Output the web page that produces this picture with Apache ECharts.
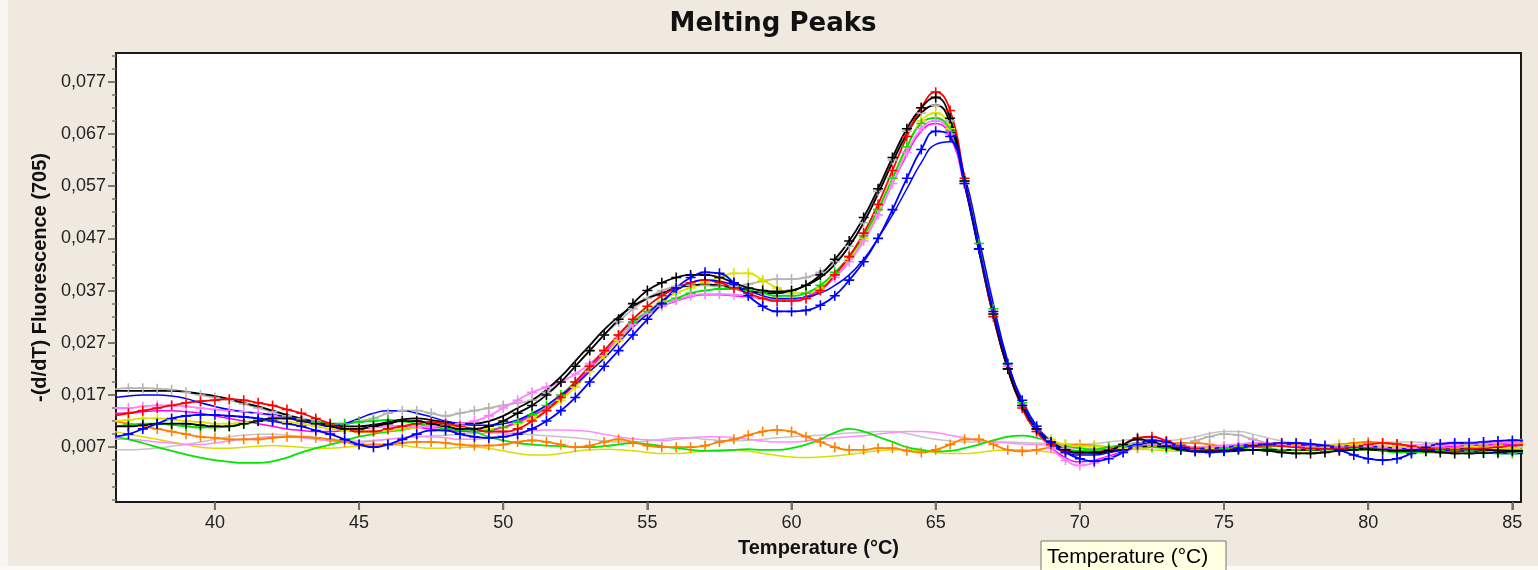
<!DOCTYPE html>
<html>
<head>
<meta charset="utf-8">
<script src="https://cdn.jsdelivr.net/npm/echarts@6/dist/echarts.min.js"></script>
<style>
  html, body { margin: 0; padding: 0; background: #EFE9DF; }
  #chart { width: 1538px; height: 570px; }
</style>
</head>
<body>
<div id="chart"></div>
<script>
// Temperatur-Raster (°C), Werte in 1/1000 Fluoreszenz-Einheiten
const temps = [
  36.5, 37, 37.5, 38, 38.5, 39, 39.5, 40, 40.5, 41,
  41.5, 42, 42.5, 43, 43.5, 44, 44.5, 45, 45.5, 46,
  46.5, 47, 47.5, 48, 48.5, 49, 49.5, 50, 50.5, 51,
  51.5, 52, 52.5, 53, 53.5, 54, 54.5, 55, 55.5, 56,
  56.5, 57, 57.5, 58, 58.5, 59, 59.5, 60, 60.5, 61,
  61.5, 62, 62.5, 63, 63.5, 64, 64.5, 65, 65.5, 66,
  66.5, 67, 67.5, 68, 68.5, 69, 69.5, 70, 70.5, 71,
  71.5, 72, 72.5, 73, 73.5, 74, 74.5, 75, 75.5, 76,
  76.5, 77, 77.5, 78, 78.5, 79, 79.5, 80, 80.5, 81,
  81.5, 82, 82.5, 83, 83.5, 84, 84.5, 85, 85.5
];

const xTicks = [40, 45, 50, 55, 60, 65, 70, 75, 80, 85];
const yTicks = [7, 17, 27, 37, 47, 57, 67, 77];
const yMinorTicks = [-3, -0.5, 2, 4.5, 9.5, 12, 14.5, 19.5, 22, 24.5, 29.5, 32, 34.5,
  39.5, 42, 44.5, 49.5, 52, 54.5, 59.5, 62, 64.5, 69.5, 72, 74.5, 79.5, 82];

// Proben ohne Produkt (flach)
const negOrange = [
  12, 11.5, 11, 10.5, 10, 9.5, 9, 8.8, 8.5, 8.5,
  8.5, 8.8, 9, 9, 8.8, 8.5, 8, 7.5, 7.5, 7.5,
  7.8, 8, 8, 7.8, 7.5, 7.3, 7.3, 7.5, 8, 8.3,
  8, 7.5, 7, 7.3, 8, 8.5, 8, 7.3, 7, 7,
  7, 7.3, 8, 8.5, 9.3, 10, 10.3, 10, 9, 8,
  7, 6.5, 6.5, 6.8, 6.8, 6.3, 6, 6.5, 7.5, 8.5,
  8.5, 7.5, 6.5, 6.2, 6.5, 7, 7.5, 7.5, 7.3, 7,
  6.8, 6.8, 7.2, 7.5, 7.8, 7.8, 7.5, 7.2, 7.2, 7.5,
  7.8, 7.8, 7.5, 7.2, 7.2, 7.5, 7.8, 8, 7.8, 7.5,
  7.2, 7, 6.8, 6.8, 7, 7.2, 7.5, 7.8, 8
];
const negGreen = [
  9, 8.5, 7.8, 7, 6.3, 5.6, 5, 4.5, 4.2, 4,
  4, 4.3, 5, 6, 6.8, 7.5, 8.2, 9, 9.5, 10,
  10.3, 10.8, 11.3, 11.5, 11, 10, 9, 8.3, 7.8, 7.5,
  7.3, 7.2, 7, 7, 7.2, 7.5, 7.8, 7.6, 7.2, 6.8,
  6.5, 6.3, 6.3, 6.5, 6.6, 6.5, 6.5, 6.8, 7.5, 8.5,
  9.8, 10.5, 10, 9, 8, 7, 6.5, 6.2, 6.3, 6.8,
  7.5, 8.3, 9, 9.2, 8.8, 8, 7.3, 6.8, 6.5, 6.5,
  6.6, 6.8, 7, 7.2, 7.2, 7, 6.8, 6.8, 6.8, 7,
  7.2, 7.2, 7, 6.8, 6.6, 6.5, 6.5, 6.6, 6.6, 6.5,
  6.3, 6.2, 6.2, 6.3, 6.5, 6.6, 6.6, 6.5, 6.3
];
const negPink = [
  8.5, 8.5, 8.3, 8, 7.8, 7.5, 7.5, 7.8, 8.2, 8.5,
  8.8, 9, 9, 8.8, 8.5, 8.2, 8, 8, 8.2, 8.5,
  8.8, 9, 9, 8.8, 8.5, 8.5, 8.8, 9.3, 9.8, 10.2,
  10.3, 10.3, 10.2, 10, 9.5, 9, 8.6, 8.4, 8.3, 8.5,
  8.8, 9, 9, 8.8, 8.5, 8.2, 8, 8, 8.2, 8.5,
  8.8, 9, 9.2, 9.5, 9.8, 10, 10, 9.8, 9.3, 8.8,
  8.3, 8, 7.8, 7.6, 7.5, 7.3, 7, 6.8, 6.8, 7,
  7.3, 7.5, 7.5, 7.3, 7, 7, 7.2, 7.4, 7.5, 7.5,
  7.3, 7.2, 7.2, 7.3, 7.4, 7.3, 7.2, 7, 7, 7.2,
  7.4, 7.6, 7.8, 8, 8, 7.8, 7.6, 7.5, 7.5
];
const negGray = [
  6.5, 6.5, 6.6, 6.8, 7.2, 7.5, 8, 8.5, 9, 9.3,
  9.5, 9.5, 9.3, 9, 8.8, 8.5, 8.3, 8.2, 8.3, 8.5,
  8.8, 9, 9.2, 9.3, 9.5, 9.6, 9.7, 9.7, 9.6, 9.4,
  9.2, 9, 8.8, 8.5, 8.2, 8, 8, 8.2, 8.5, 8.8,
  8.8, 8.5, 8.3, 8.2, 8.3, 8.5, 8.8, 9, 9.2, 9.3,
  9.5, 9.7, 9.8, 10, 10, 9.6, 9, 8.5, 8.2, 8,
  8, 8, 8, 7.9, 7.8, 7.6, 7.5, 7.5, 7.7, 8,
  8.3, 8.5, 8.5, 8.3, 8.5, 9, 9.6, 10, 10, 9.5,
  8.8, 8.2, 7.8, 7.6, 7.5, 7.5, 7.6, 7.8, 7.9, 8,
  8, 7.9, 7.8, 7.8, 7.9, 8, 8.2, 8.4, 8.5
];
const negYellow = [
  10, 9.5, 9, 8.5, 8, 7.5, 7, 6.8, 6.8, 7,
  7.2, 7.3, 7.2, 7, 6.8, 6.8, 7, 7.2, 7.5, 7.5,
  7.3, 7, 6.8, 6.8, 7, 7, 6.8, 6.3, 5.8, 5.5,
  5.5, 5.8, 6.2, 6.5, 6.6, 6.5, 6.3, 6, 5.8, 5.8,
  6, 6.3, 6.5, 6.5, 6.2, 5.8, 5.4, 5.1, 5, 5.1,
  5.3, 5.6, 6, 6.3, 6.5, 6.5, 6.3, 6, 5.8, 5.8,
  6, 6.3, 6.5, 6.5, 6.3, 6, 5.8, 5.8, 6, 6.3,
  6.5, 6.6, 6.5, 6.3, 6.2, 6.2, 6.4, 6.6, 6.6, 6.5,
  6.3, 6.1, 6, 6, 6.1, 6.3, 6.5, 6.5, 6.4, 6.2,
  6, 5.9, 5.9, 6, 6.2, 6.4, 6.5, 6.5, 6.4
];

// Proben mit Produkt (Peak bei ~65 °C)
const posGray = [
  18, 18.3, 18.3, 18.2, 18, 17.5, 17, 16.5, 16, 15.3,
  14.5, 13.8, 13, 12.5, 12, 11.5, 11.5, 12, 12.5, 13.5,
  14, 14, 13.5, 13, 13.5, 14, 14.5, 15, 15.5, 16,
  17.5, 19.5, 22.5, 25.5, 28.5, 31, 33.5, 35.5, 37, 37.8,
  38, 38, 37.8, 37.8, 38.2, 38.8, 39.2, 39.2, 39.5, 40.5,
  42.5, 45.5, 50, 56, 62, 67.5, 71, 72.5, 69.5, 58,
  45, 32.5, 22, 15, 10.5, 8, 6.8, 6.3, 6.5, 7,
  7.5, 7.8, 7.5, 7.3, 7.5, 8.2, 9, 9.5, 9.3, 8.5,
  7.8, 7.3, 7, 7, 7.2, 7.3, 7.3, 7.2, 7, 7,
  7, 7.2, 7.5, 7.6, 7.6, 7.5, 7.3, 7.2, 7
];
const posYellow = [
  12, 12.2, 12.5, 12.5, 12.3, 12, 11.8, 11.5, 11.5, 11.8,
  12, 12, 11.8, 11.5, 11, 10.5, 10.2, 10, 10, 10.2,
  10.5, 10.8, 11, 11, 10.8, 10.5, 10.5, 10.8, 11.5, 12.5,
  14, 16, 18.5, 21.5, 24.5, 27.5, 30.5, 33, 35, 36.5,
  37.5, 38.5, 39.5, 40.3, 40.3, 39, 37.5, 36.5, 36.5, 37.5,
  40, 43, 47, 52.5, 58.5, 64.5, 69.5, 71, 68, 57.5,
  45, 32.5, 22.5, 15.5, 11, 8.5, 7.5, 7.2, 7.2, 7,
  6.8, 6.8, 7, 7.2, 7.2, 7, 6.8, 6.8, 7, 7.3,
  7.3, 7.2, 7, 7, 7.2, 7.4, 7.5, 7.4, 7.2, 7,
  7, 7.2, 7.4, 7.4, 7.2, 7, 6.8, 6.8, 7
];
const posGreen = [
  11, 11.2, 11.5, 11.5, 11.3, 11, 10.8, 10.8, 11, 11.5,
  12, 12.5, 12.5, 12.2, 11.8, 11.5, 11.5, 11.8, 12, 12.2,
  12, 11.5, 11, 10.5, 10.2, 10, 10.2, 10.8, 11.8, 13.2,
  15, 17, 19.5, 22.5, 25.5, 28.5, 31, 33, 34.5, 35.5,
  36.5, 37, 37.3, 37.3, 37, 36.5, 36, 36, 36.5, 38,
  40.5, 43.5, 47.5, 52.5, 58.5, 64.5, 69, 70, 67.5, 58,
  46, 33.5, 23, 15.5, 10.5, 7.5, 6.5, 6.3, 6.5, 7,
  7.3, 7.3, 7, 6.8, 6.5, 6.5, 6.5, 6.8, 7, 7,
  6.8, 6.5, 6.5, 6.5, 6.7, 6.8, 6.8, 6.6, 6.3, 6,
  6, 6.2, 6.4, 6.4, 6.2, 6, 5.8, 5.8, 6
];
const posMagenta = [
  13.5, 13.5, 13.8, 14, 14, 13.8, 13.5, 13, 12.5, 12,
  11.5, 11, 10.5, 10.2, 10, 10, 10.2, 10.5, 10.8, 11,
  11, 10.8, 10.5, 10.2, 10, 10, 10.2, 10.8, 11.8, 13,
  14.5, 16.5, 19, 22, 25, 28, 30.5, 32.5, 34, 35,
  35.8, 36.2, 36.2, 36, 35.8, 35.5, 35.2, 35.2, 35.8, 37.2,
  39.5, 42.5, 46.5, 51.5, 57.5, 63, 67.5, 69, 66.5, 57,
  45, 33, 22.5, 15, 10, 7, 5, 4.2, 4.5, 5.3,
  6.2, 7, 7.3, 7.2, 7, 6.8, 6.8, 7, 7.2, 7.5,
  7.5, 7.3, 7, 6.8, 6.8, 6.8, 7, 7, 6.8, 6.6,
  6.6, 6.8, 7, 7.2, 7.3, 7.4, 7.5, 7.5, 7.5
];
const posPink = [
  14.5, 14.5, 14.8, 15, 15, 14.8, 14.5, 14.2, 14, 13.8,
  13.5, 13, 12.5, 12, 11.5, 11, 10.5, 10.5, 10.8, 11,
  11, 11, 11, 11.2, 11.5, 12, 13, 14.5, 16, 17.5,
  18.5, 19.5, 21, 23, 25.5, 28, 30.5, 32.5, 34, 35.2,
  36, 36.3, 36.3, 36.2, 36, 35.5, 35, 35, 35.5, 37,
  39.5, 42.5, 46.5, 51.5, 57.5, 63.5, 68, 69.5, 67, 57.5,
  45, 33, 22.5, 15, 10, 6.8, 4.5, 3.5, 4, 5,
  6, 7, 7.5, 7.5, 7.2, 7, 7, 7.2, 7.5, 7.8,
  7.8, 7.5, 7.2, 7, 6.9, 7, 7.2, 7.2, 7, 6.8,
  6.8, 7, 7.3, 7.5, 7.8, 8, 8, 7.8, 7.6
];
const posBlackLine = [
  17.8, 17.8, 17.8, 17.8, 17.8, 17.6, 17.2, 16.8, 16.2, 15.5,
  14.8, 14, 13.2, 12.5, 11.8, 11.2, 11, 11, 11.3, 11.8,
  12.3, 12.5, 12.2, 11.8, 11.5, 11.5, 12, 13, 14.5, 16,
  18, 20.5, 23.5, 26.5, 29.5, 32, 34, 35.5, 36.5, 37.5,
  38, 38.2, 38, 37.5, 37, 36.5, 36.5, 37, 38, 39.5,
  42, 45.5, 50, 55.5, 61.5, 67, 71, 72.5, 69, 57.5,
  44.5, 32, 22, 15, 10.5, 8, 6.5, 5.8, 5.8, 6,
  6.5, 7, 7.2, 7, 6.6, 6.3, 6.2, 6.2, 6.3, 6.5,
  6.5, 6.5, 6.5, 6.5, 6.6, 6.8, 6.8, 6.6, 6.4, 6.3,
  6.3, 6.4, 6.5, 6.6, 6.6, 6.5, 6.4, 6.3, 6.3
];
const posRed = [
  13, 13.5, 14, 14.5, 15, 15.5, 15.8, 16, 16.2, 16,
  15.5, 15, 14.2, 13.5, 12.5, 11.5, 10.5, 10, 10, 10.5,
  11, 11.5, 11.8, 11.5, 11, 10.5, 10, 10, 10.5, 12,
  14, 16.5, 19.5, 22.5, 25.5, 28.5, 31.5, 34, 36, 37.5,
  38.5, 39, 38.5, 37.5, 36.5, 35.5, 35, 35, 35.5, 37,
  40, 43.5, 48, 53.5, 60, 66.5, 72, 75, 71.5, 58.5,
  45, 32, 22, 14.5, 10, 7.5, 6.3, 5.8, 6, 6.5,
  7.5, 8.8, 9, 8.2, 7.3, 6.8, 6.5, 6.5, 6.8, 7.2,
  7.3, 7.2, 7, 6.8, 6.7, 6.8, 7, 7.5, 7.8, 7.6,
  7.2, 6.8, 6.6, 6.5, 6.6, 6.8, 7, 7.3, 7.5
];
const posBlack = [
  11, 11, 11.2, 11.5, 11.5, 11.5, 11.2, 11, 11, 11.5,
  12, 12.5, 12.5, 12, 11.5, 11, 10.5, 10.5, 11, 11.5,
  12, 12, 11.5, 11, 10.5, 10.5, 11, 12, 13.5, 15,
  17, 19.5, 22.5, 25.5, 28.5, 31.5, 34.5, 37, 38.5, 39.5,
  40, 40, 39.5, 38.5, 37.5, 37, 36.8, 37, 38, 40,
  43, 46.5, 51, 56.5, 62.5, 68, 72, 74, 70, 58,
  45, 32.5, 22, 15, 10.5, 8, 6.5, 6, 6, 6.3,
  7.5, 8.5, 8, 7.2, 6.5, 6.2, 6.2, 6.3, 6.5, 6.5,
  6.3, 6, 5.8, 5.8, 6, 6.3, 6.5, 6.6, 6.5, 6.3,
  6.3, 6.2, 6, 5.8, 5.8, 5.9, 6, 6.2, 6.3
];
const posBlue = [
  9, 9.5, 10.5, 11.5, 12.5, 13, 13.2, 13.2, 13, 12.8,
  12.5, 12, 11.5, 11, 10.2, 9.5, 8.5, 7.5, 7, 7.5,
  8.5, 9.5, 10.2, 10.2, 9.5, 9, 8.8, 9, 9.5, 10.5,
  12, 14, 16.5, 19.5, 22.5, 25.5, 28.5, 31.5, 34.5, 37.5,
  39.5, 40.5, 40.3, 38.5, 36, 34, 33, 33, 33.2, 34.2,
  36, 39, 42.5, 47, 52.5, 58.5, 64, 67.5, 66.5, 57.5,
  45, 33, 23, 16, 11, 8, 6, 4.8, 4.3, 4.8,
  6, 7.5, 8.3, 8, 7, 6.2, 6, 6.2, 6.8, 7.3,
  7.6, 7.8, 7.8, 7.6, 7.3, 6.5, 5.5, 4.8, 4.5, 4.8,
  5.8, 7, 7.6, 7.8, 7.8, 8, 8.2, 8.3, 8.3
];
const posBlueLine = [
  16.5, 16.8, 17, 17, 16.8, 16.3, 15.5, 14.8, 14.2, 13.8,
  13.5, 13.2, 12.8, 12.2, 11.5, 11, 11.5, 12.5, 13.5, 14,
  14, 13.5, 12.8, 12, 11.5, 11.2, 11.2, 11.5, 12.2, 13.5,
  15, 17, 19, 21.5, 24, 27, 30, 32.5, 35, 37,
  38.5, 39, 38.8, 38, 37, 36, 35.5, 35.5, 35.8, 36.5,
  38, 40, 43, 47, 51.5, 56.5, 61.5, 65, 65.5, 59,
  47, 34.5, 23.5, 15.5, 10.5, 7.5, 6, 5.5, 5.5, 6,
  6.8, 7.5, 7.8, 7.5, 7, 6.8, 6.8, 7, 7.3, 7.5,
  7.6, 7.6, 7.5, 7.3, 7.2, 7.2, 7.3, 7.2, 7, 6.8,
  6.6, 6.5, 6.4, 6.3, 6.2, 6, 5.8, 5.8, 5.8
];

const xMin = 36.57, xMax = 85.3;
const yMin = -3.5, yMax = 82.5;

const plus = 'path://M4.3,0h1.6v10.2h-1.6z M0,4.3h10.2v1.6h-10.2z';

function curve(name, values, color, marked, width) {
  return {
    type: 'line',
    name: name,
    data: temps.map((t, i) => [t, values[i]]),
    smooth: true,
    symbol: marked ? plus : 'none',
    symbolSize: 10,
    showSymbol: marked,
    lineStyle: { color: color, width: width },
    itemStyle: { color: color },
    emphasis: { disabled: true },
    silent: true,
    animation: false
  };
}

const chart = echarts.init(document.getElementById('chart'), null, { renderer: 'canvas' });

const fmt = (v) => (v / 1000).toFixed(3).replace('.', ',');

chart.setOption({
  animation: false,
  grid: {
    left: 116, right: 17, top: 53, bottom: 68,
    show: true, backgroundColor: '#ffffff',
    borderColor: '#1a1a1a', borderWidth: 2
  },
  graphic: [
    { id: 'strip-left', type: 'rect', shape: { x: 0, y: 0, width: 8, height: 570 }, style: { fill: '#F8F6F2' } },
    { id: 'strip-bottom', type: 'rect', shape: { x: 0, y: 566, width: 1538, height: 4 }, style: { fill: '#FBFAF8' } },
    {
      id: 'title', type: 'text',
      style: { x: 773, y: 24, text: 'Melting Peaks', font: 'bold 26px "DejaVu Sans"', fill: '#111',
        textAlign: 'center', textVerticalAlign: 'middle' }
    },
    {
      id: 'tip-box', type: 'rect', shape: { x: 1041, y: 541, width: 185, height: 32 },
      style: { fill: '#FFFFE1', stroke: '#767676', lineWidth: 1 }
    },
    {
      id: 'tip-text', type: 'text',
      style: { x: 1047, y: 547, text: 'Temperature (°C)', font: '21px "Liberation Sans"', fill: '#000', textVerticalAlign: 'top' }
    }
  ],
  xAxis: {
    type: 'value',
    min: xMin, max: xMax,
    name: 'Temperature (°C)',
    nameLocation: 'middle',
    nameGap: 36,
    nameTextStyle: { fontFamily: 'Liberation Sans', fontWeight: 'bold', fontSize: 20, color: '#111' },
    axisLine: { show: false, onZero: false },
    splitLine: { show: false },
    axisTick: { show: true, length: 8, customValues: xTicks, lineStyle: { color: '#707070', width: 2 } },
    axisLabel: { customValues: xTicks, margin: 12, fontFamily: 'Liberation Sans', fontSize: 18, color: '#222' }
  },
  yAxis: [
    {
      type: 'value',
      min: yMin, max: yMax,
      name: '-(d/dT) Fluorescence (705)',
      nameLocation: 'middle',
      nameGap: 64,
      nameTextStyle: { fontFamily: 'Liberation Sans', fontWeight: 'bold', fontSize: 20, color: '#111' },
      axisLine: { show: false, onZero: false },
      splitLine: { show: false },
      axisTick: { show: true, length: 8, customValues: yTicks, lineStyle: { color: '#555', width: 1.5 } },
      axisLabel: { customValues: yTicks, formatter: fmt, margin: 10, fontFamily: 'Liberation Sans', fontSize: 18, color: '#222' }
    },
    {
      type: 'value',
      min: yMin, max: yMax,
      position: 'left',
      axisLine: { show: false, onZero: false },
      splitLine: { show: false },
      axisTick: { show: true, length: 4, customValues: yMinorTicks, lineStyle: { color: '#777', width: 1.5 } },
      axisLabel: { show: false }
    }
  ],
  series: [
    curve('neg-gray', negGray, '#C4C4C4', false, 1.5),
    curve('neg-yellow', negYellow, '#DCDC00', false, 1.5),
    curve('neg-pink', negPink, '#FF8CFF', false, 1.5),
    curve('neg-green', negGreen, '#00E600', false, 1.8),
    curve('neg-orange', negOrange, '#FF8000', true, 1.8),
    curve('gray', posGray, '#B4B4B4', true, 1.8),
    curve('yellow', posYellow, '#E0E000', true, 1.8),
    curve('green', posGreen, '#00E000', true, 1.8),
    curve('magenta', posMagenta, '#FF00FF', false, 1.5),
    curve('pink', posPink, '#FF80FF', true, 1.8),
    curve('black-line', posBlackLine, '#000000', false, 1.8),
    curve('red', posRed, '#FF0000', true, 1.8),
    curve('black', posBlack, '#000000', true, 1.8),
    curve('blue', posBlue, '#0000FF', true, 1.8),
    curve('blue-line', posBlueLine, '#0000FF', false, 1.5)
  ]
});

// Teilstriche unter der x-Achse über die Achsen-Skala positionieren
const axisBottom = chart.convertToPixel({ yAxisIndex: 0 }, yMin);
chart.setOption({
  graphic: xTicks.map((v, i) => {
    const px = chart.convertToPixel({ xAxisIndex: 0 }, v);
    return {
      id: 'xtick-' + i,
      type: 'line',
      z: 100,
      shape: { x1: px, y1: axisBottom + 1, x2: px, y2: axisBottom + 8 },
      style: { stroke: '#707070', lineWidth: 2 }
    };
  })
});
</script>
</body>
</html>
